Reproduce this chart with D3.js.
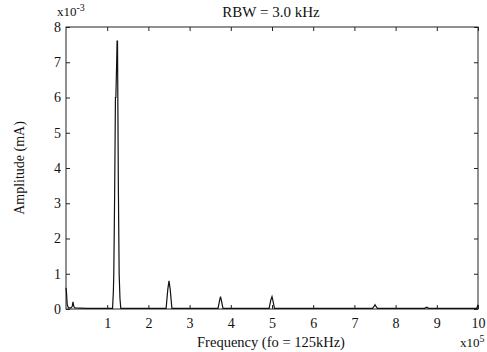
<!DOCTYPE html>
<html>
<head>
<meta charset="utf-8">
<script src="https://cdn.jsdelivr.net/npm/d3@7"></script>
<style>
  body { margin: 0; background: #fff; }
  text { font-family: "Liberation Serif", "Times New Roman", serif; fill: #111; }
</style>
</head>
<body>
<div id="wrapper"></div>
<script>
// spectrum trace: frequency (x1e5 Hz), amplitude (x1e-3 mA)
const freq = [0, 0.01, 0.03, 0.06, 0.12, 0.15, 0.17, 0.19, 0.22, 0.5, 0.9, 1.13,
  1.15, 1.16, 1.18, 1.2, 1.21, 1.23, 1.24, 1.25, 1.26, 1.27, 1.29, 1.31, 1.33,
  1.6, 2.0, 2.43, 2.47, 2.5, 2.53, 2.57, 3.0, 3.69, 3.73, 3.75, 3.77, 3.81,
  4.4, 4.93, 4.97, 5.0, 5.02, 5.06, 6.0, 7.44, 7.48, 7.5, 7.52, 7.56,
  8.7, 8.74, 8.76, 8.8, 9.97, 10];
const amp = [0.6, 0.5, 0.12, 0.03, 0.03, 0.07, 0.2, 0.07, 0.03, 0.02, 0.02, 0.02,
  0.5, 1.0, 3.2, 6.0, 6.0, 7.0, 7.6, 7.6, 5.6, 3.6, 1.0, 0.3, 0.02,
  0.02, 0.02, 0.02, 0.55, 0.8, 0.55, 0.02, 0.02, 0.02, 0.25, 0.35, 0.25, 0.02,
  0.02, 0.02, 0.25, 0.35, 0.25, 0.02, 0.02, 0.02, 0.08, 0.12, 0.08, 0.02,
  0.02, 0.04, 0.05, 0.02, 0.02, 0.12];

const xTicks = [1, 2, 3, 4, 5, 6, 7, 8, 9, 10];
const yTicks = [0, 1, 2, 3, 4, 5, 6, 7, 8];

const dimensions = {
  width: 487,
  height: 352,
  margin: { top: 27, right: 9, bottom: 43, left: 66 }
};
dimensions.boundedWidth = dimensions.width - dimensions.margin.left - dimensions.margin.right;
dimensions.boundedHeight = dimensions.height - dimensions.margin.top - dimensions.margin.bottom;

const wrapper = d3.select("#wrapper").append("svg")
  .attr("width", dimensions.width)
  .attr("height", dimensions.height);

const bounds = wrapper.append("g")
  .attr("transform", `translate(${dimensions.margin.left},${dimensions.margin.top})`);

const xScale = d3.scaleLinear().domain([0, 10]).range([0, dimensions.boundedWidth]);
const yScale = d3.scaleLinear().domain([0, 8]).range([dimensions.boundedHeight, 0]);

// frame
bounds.append("rect")
  .attr("width", dimensions.boundedWidth)
  .attr("height", dimensions.boundedHeight)
  .attr("fill", "none")
  .attr("stroke", "#222")
  .attr("stroke-width", 1);

// axes with inward ticks on all sides
const styleAxis = g => {
  g.select(".domain").remove();
  g.selectAll(".tick line").attr("stroke", "#222");
  g.selectAll(".tick text").style("font-size", "14px").attr("fill", "#111");
};

bounds.append("g")
  .attr("transform", `translate(0,${dimensions.boundedHeight})`)
  .call(d3.axisBottom(xScale).tickValues(xTicks).tickSize(-4).tickPadding(9).tickFormat(d3.format("d")))
  .call(styleAxis);

bounds.append("g")
  .call(d3.axisTop(xScale).tickValues(xTicks).tickSize(-4).tickFormat(""))
  .call(styleAxis);

bounds.append("g")
  .call(d3.axisLeft(yScale).tickValues(yTicks).tickSize(-4).tickPadding(5).tickFormat(d3.format("d")))
  .call(styleAxis);

bounds.append("g")
  .attr("transform", `translate(${dimensions.boundedWidth},0)`)
  .call(d3.axisRight(yScale).tickValues(yTicks).tickSize(-4).tickFormat(""))
  .call(styleAxis);

// spectrum line
const points = freq.map((f, i) => [f, amp[i]]);
const lineGenerator = d3.line()
  .x(d => xScale(d[0]))
  .y(d => yScale(d[1]));

bounds.append("path")
  .datum(points)
  .attr("d", lineGenerator)
  .attr("fill", "none")
  .attr("stroke", "#111")
  .attr("stroke-width", 1.2);

// labels
wrapper.append("text")
  .attr("x", 271).attr("y", 17)
  .attr("text-anchor", "middle")
  .style("font-size", "15px")
  .text("RBW = 3.0 kHz");

const expY = wrapper.append("text")
  .attr("x", 57).attr("y", 16)
  .style("font-size", "13px");
expY.append("tspan").text("x10");
expY.append("tspan").attr("dy", -5).style("font-size", "10px").text("-3");

wrapper.append("text")
  .attr("x", 271).attr("y", 347)
  .attr("text-anchor", "middle")
  .style("font-size", "14.5px")
  .text("Frequency (fo = 125kHz)");

const expX = wrapper.append("text")
  .attr("x", 460).attr("y", 347)
  .style("font-size", "13px");
expX.append("tspan").text("x10");
expX.append("tspan").attr("dy", -5).style("font-size", "10px").text("5");

wrapper.append("text")
  .attr("transform", `translate(24,${dimensions.margin.top + dimensions.boundedHeight / 2}) rotate(-90)`)
  .attr("text-anchor", "middle")
  .style("font-size", "14px")
  .text("Amplitude (mA)");
</script>
</body>
</html>
